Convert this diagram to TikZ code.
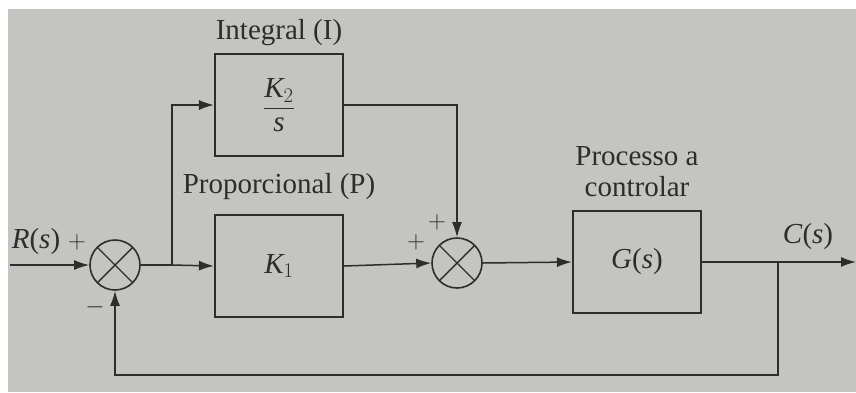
\documentclass[tikz,border=0pt]{standalone}
\usepackage{fontspec}
\setmainfont{Liberation Serif}
\usetikzlibrary{arrows.meta}
\definecolor{paper}{RGB}{196,197,192}
\definecolor{ink}{RGB}{45,45,45}
\begin{document}
\begin{tikzpicture}[x=1pt,y=-1pt,
  every node/.style={font=\fontsize{29}{32}\selectfont, text=ink},
  blk/.style={draw=ink, line width=2.2pt, minimum width=128pt, minimum height=102pt, inner sep=0pt},
  sumj/.style={draw=ink, line width=1.6pt, circle, minimum size=50pt, inner sep=0pt,
     path picture={\draw[ink, line width=1.4pt] (path picture bounding box.south west) -- (path picture bounding box.north east)
       (path picture bounding box.north west) -- (path picture bounding box.south east);}},
  sig/.style={draw=ink, line width=1.5pt},
  arr/.style={sig, -{Latex[length=15pt,width=10pt]}},
  sgn/.style={font=\fontsize{30}{32}\selectfont, inner sep=0pt}]
\useasboundingbox (0,0) rectangle (856,392);
\fill[white] (0,0) rectangle (856,392);
\fill[paper] (8,9) rectangle (856,392);
% summing junctions
\node[sumj] (s1) at (115,265) {};
\node[sumj] (s2) at (457,263) {};
% blocks
\node[blk] (int) at (279,105) {$\displaystyle\frac{\textit{K}_2}{\textit{s}}$};
\node[blk] (prop) at (279,266) {$\textit{K}_1$};
\node[blk] (plant) at (637,262) {\textit{G}(\textit{s})};
% labels
\node at (279,33) {Integral (I)};
\node at (279,187) {Proporcional (P)};
\node[align=center, font=\fontsize{29}{31}\selectfont] at (637,172) {Processo a\\controlar};
\node (rl) at (36,242) {\textit{R}(\textit{s})};
\node (cl) at (808,237) {\textit{C}(\textit{s})};
\node[sgn] at (77,242) {$+$};
\node[sgn] at (95,307) {$-$};
\node[sgn] at (437,222) {$+$};
\node[sgn] at (416,242) {$+$};
% coordinates
\coordinate (in) at (10,265);
\coordinate (b1) at (172,265);
\coordinate (b2) at (778,262);
\coordinate (out) at (856,262);
\coordinate (fb) at (778,375);
% connectors
\draw[arr] (in) -- (s1.west);
\draw[sig] (s1.east) -- (b1);
\draw[arr] (b1) -- (prop.west);
\draw[arr] (b1) |- (int.west);
\draw[arr] (int.east) -| (s2.north);
\draw[arr] (prop.east) -- (s2.west);
\draw[arr] (s2.east) -- (plant.west);
\draw[arr] (plant.east) -- (out);
\draw[arr] (b2) -- (fb) -| (s1.south);
\end{tikzpicture}
\end{document}
